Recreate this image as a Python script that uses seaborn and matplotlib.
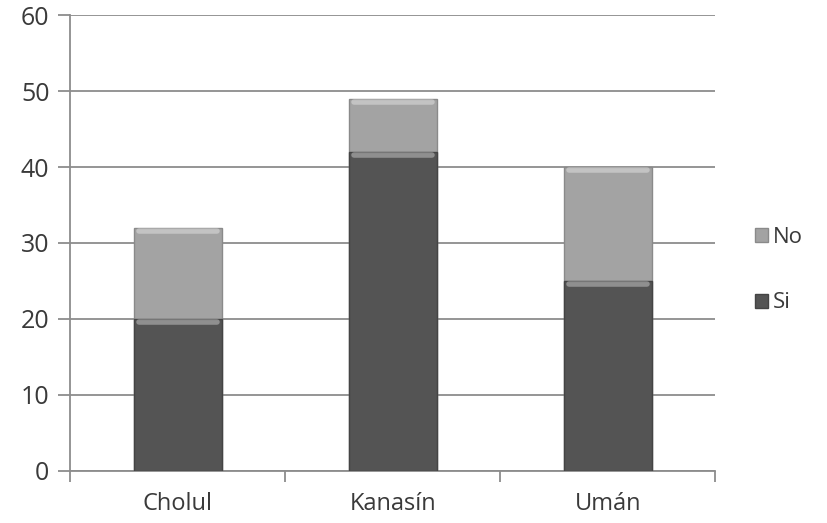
import matplotlib
matplotlib.use('Agg')
import matplotlib.pyplot as plt
import seaborn as sns
import pandas as pd
from matplotlib.patches import Patch

# Data
towns = ['Cholul', 'Kanasín', 'Umán']
si = [20, 42, 25]
no = [12, 7, 15]

df = pd.DataFrame({'town': towns, 'Si': si, 'No': no})
df['total'] = df['Si'] + df['No']

sns.set_style('white')
plt.rcParams['font.family'] = ['Open Sans', 'DejaVu Sans']

fig = plt.figure(figsize=(8.27, 5.23), dpi=100)
ax = fig.add_axes([0.085, 0.10, 0.78, 0.871])

c_no = '#a3a3a3'
c_si = '#545454'

# stacked bars: total first (No colour), Si drawn over it
sns.barplot(data=df, x='town', y='total', color=c_no, width=0.41,
            saturation=1, edgecolor='#8a8a8a', linewidth=1, ax=ax, zorder=3)
sns.barplot(data=df, x='town', y='Si', color=c_si, width=0.41,
            saturation=1, edgecolor='#444444', linewidth=1, ax=ax, zorder=4)

# soft bevel along the top of each segment
for p in ax.patches:
    x0, w = p.get_x(), p.get_width()
    top = p.get_y() + p.get_height()
    ax.plot([x0 + 0.025, x0 + w - 0.025], [top - 0.45, top - 0.45],
            color='white', alpha=0.35, lw=4, zorder=5, solid_capstyle='round')

ax.set_ylim(0, 60)
ax.set_xlim(-0.5, 2.5)
ax.set_yticks(range(0, 61, 10))
ax.yaxis.grid(True, color='#8c8c8c', linewidth=1.3)
ax.set_axisbelow(True)
ax.set_xlabel('')
ax.set_ylabel('')

for s in ['top', 'right']:
    ax.spines[s].set_visible(False)
for s in ['left', 'bottom']:
    ax.spines[s].set_color('#8c8c8c')
    ax.spines[s].set_linewidth(1.3)

ax.tick_params(axis='y', which='major', left=True, length=9, width=1.3,
               color='#8c8c8c', labelsize=18, labelcolor='#3a3a3a', pad=6)
ax.tick_params(axis='x', which='major', bottom=False, labelsize=17,
               labelcolor='#3a3a3a', pad=12)
ax.set_xticks([-0.5, 0.5, 1.5, 2.5], minor=True)
ax.tick_params(axis='x', which='minor', bottom=True, length=8, width=1.3,
               color='#8c8c8c')

handles = [Patch(facecolor=c_no, edgecolor='#8a8a8a', label='No'),
           Patch(facecolor=c_si, edgecolor='#444444', label='Si')]
ax.legend(handles=handles, loc='center left', bbox_to_anchor=(1.03, 0.44),
          frameon=False, fontsize=16, handlelength=0.6, handleheight=0.6,
          handletextpad=0.2, labelspacing=2.0, labelcolor='#3a3a3a')

fig.savefig('out.png', dpi=100, facecolor='white')
